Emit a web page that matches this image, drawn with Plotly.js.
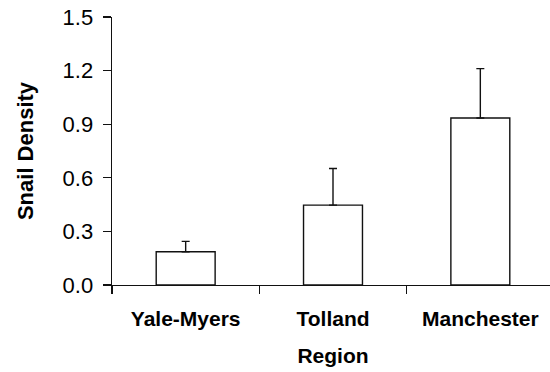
<!DOCTYPE html>
<html>
<head>
<meta charset="utf-8">
<script src="https://cdn.plot.ly/plotly-3.0.1.min.js"></script>
<style>
html, body { margin: 0; padding: 0; overflow: hidden; background: #fff; }
#chart { width: 554px; height: 372px; }
</style>
</head>
<body>
<div id="chart"></div>
<script>
var regions = ["Yale-Myers", "Tolland", "Manchester"];
var density = [0.186, 0.447, 0.935];
var errUpper = [0.058, 0.205, 0.276];
var errLower = [0, 0, 0];
var yTicks = [0, 0.3, 0.6, 0.9, 1.2, 1.5];

var trace = {
  type: "bar",
  x: regions,
  y: density,
  width: 0.4,
  marker: { color: "#ffffff", line: { color: "#111111", width: 1.4 } },
  error_y: {
    type: "data",
    symmetric: false,
    array: errUpper,
    arrayminus: errLower,
    color: "#111111",
    thickness: 1.4,
    width: 4
  },
  hoverinfo: "skip"
};

var layout = {
  width: 554,
  height: 372,
  margin: { l: 112, r: 0, t: 17, b: 87 },
  paper_bgcolor: "#ffffff",
  plot_bgcolor: "#ffffff",
  showlegend: false,
  font: { family: "Liberation Sans, Arial, sans-serif", color: "#000000" },
  xaxis: {
    type: "category",
    range: [-0.5, 2.5],
    tickson: "boundaries",
    ticks: "outside",
    ticklen: 8,
    tickwidth: 1.2,
    tickcolor: "#111111",
    showline: true,
    linecolor: "#111111",
    linewidth: 1.4,
    showgrid: false,
    zeroline: false,
    tickfont: { size: 21, family: "Liberation Sans, Arial, sans-serif", weight: "bold" },
    ticklabelstandoff: 14,
    title: { text: "Region", font: { size: 21, family: "Liberation Sans, Arial, sans-serif", weight: "bold" }, standoff: 19 }
  },
  yaxis: {
    range: [0, 1.5],
    tickmode: "array",
    tickvals: yTicks,
    ticktext: yTicks.map(function (v) { return v.toFixed(1); }),
    ticks: "outside",
    ticklen: 8,
    tickwidth: 1.2,
    tickcolor: "#111111",
    showline: true,
    linecolor: "#111111",
    linewidth: 1.4,
    showgrid: false,
    zeroline: false,
    tickfont: { size: 22, family: "Liberation Sans, Arial, sans-serif" },
    ticklabelstandoff: 5,
    title: { text: "Snail Density", font: { size: 22, family: "Liberation Sans, Arial, sans-serif", weight: "bold" }, standoff: 23 }
  }
};

Plotly.newPlot("chart", [trace], layout, { displayModeBar: false, staticPlot: true });
</script>
</body>
</html>
